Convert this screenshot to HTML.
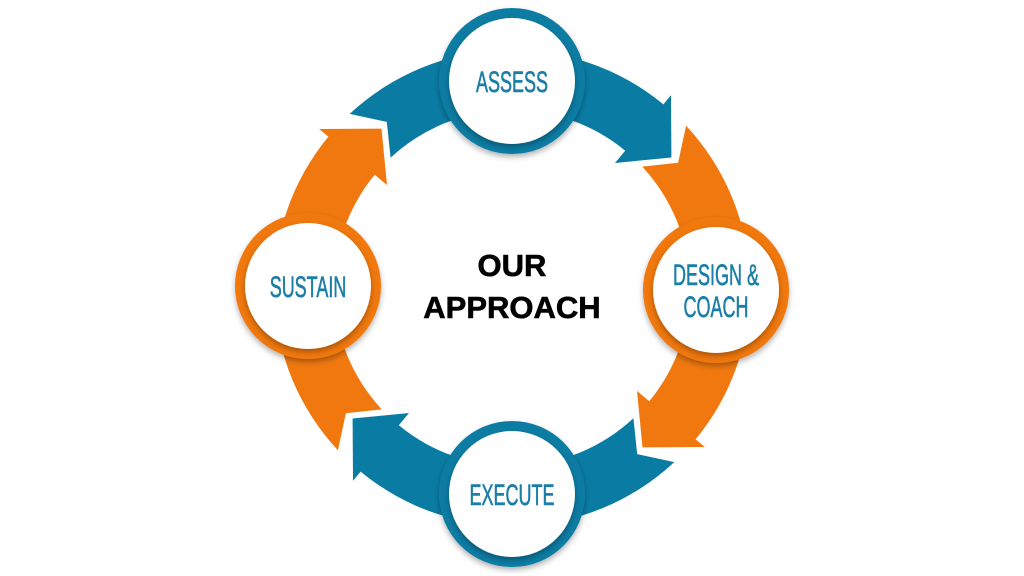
<!DOCTYPE html>
<html><head><meta charset="utf-8"><style>
html,body{margin:0;padding:0;background:#fff;}
svg{display:block}
.lbl{font-family:"Liberation Sans",sans-serif;fill:#1a7ea6;stroke:#1a7ea6;stroke-width:0.6;font-size:30px;}
.ctr{font-family:"Liberation Sans",sans-serif;font-weight:bold;font-size:31px;fill:#000;stroke:#000;stroke-width:0.6;}
</style></head><body>
<svg id="s" width="1024" height="576" viewBox="0 0 1024 576" xmlns="http://www.w3.org/2000/svg">
<defs>
<filter id="sh" x="-20%" y="-20%" width="140%" height="150%"><feDropShadow dx="0" dy="3" stdDeviation="3" flood-color="#000" flood-opacity="0.3"/></filter>
</defs>
<g id="arrows"></g>
<g id="circles"></g>
<text class="ctr" x="512" y="276" text-anchor="middle">OUR</text>
<text class="ctr" x="512" y="318" text-anchor="middle">APPROACH</text>
</svg>
<script>
var cx=512,cy=288;
function P(t,r){var a=t*Math.PI/180;return [(cx+r*Math.sin(a)).toFixed(1),(cy-r*Math.cos(a)).toFixed(1)];}
function arrow(t1,color){
 var ri=178,ro=238,base=t1+82.5,tip=t1+93.7,notch=t1+6;
 var d="M"+P(t1,ro)+" A"+ro+" "+ro+" 0 0 1 "+P(base,ro)+" L"+P(base,250)+" L"+P(tip,206)+" L"+P(base,162)+" L"+P(base,ri)+
 " A"+ri+" "+ri+" 0 0 0 "+P(t1,ri)+" L"+P(notch,208)+" Z";
 return '<path d="'+d+'" fill="'+color+'"/>';
}
var B="#0a7ca3",O="#f0780f";
var h=arrow(-43,B)+arrow(47,O)+arrow(137,B)+arrow(227,O);
document.getElementById('arrows').innerHTML=h;
var cs=[[512,81,B,"ASSESS"],[716,290,O,"DESIGN &|COACH"],[512,494,B,"EXECUTE"],[308,286,O,"SUSTAIN"]];
var c="";
cs.forEach(function(q){
 c+='<circle cx="'+q[0]+'" cy="'+q[1]+'" r="73" fill="'+q[2]+'" filter="url(#sh)"/>';
 c+='<circle cx="'+q[0]+'" cy="'+q[1]+'" r="63" fill="#fff" filter="url(#sh)"/>';
 var lines=q[3].split("|");
 lines.forEach(function(l,i){
  var y=q[1]+11+(i-(lines.length-1)/2)*32;
  c+='<text class="lbl" text-anchor="middle" transform="translate('+q[0]+','+y+') scale(0.6,1)">'+l.replace("&","&amp;")+'</text>';
 });
});
document.getElementById('circles').innerHTML=c;
</script>
</body></html>
